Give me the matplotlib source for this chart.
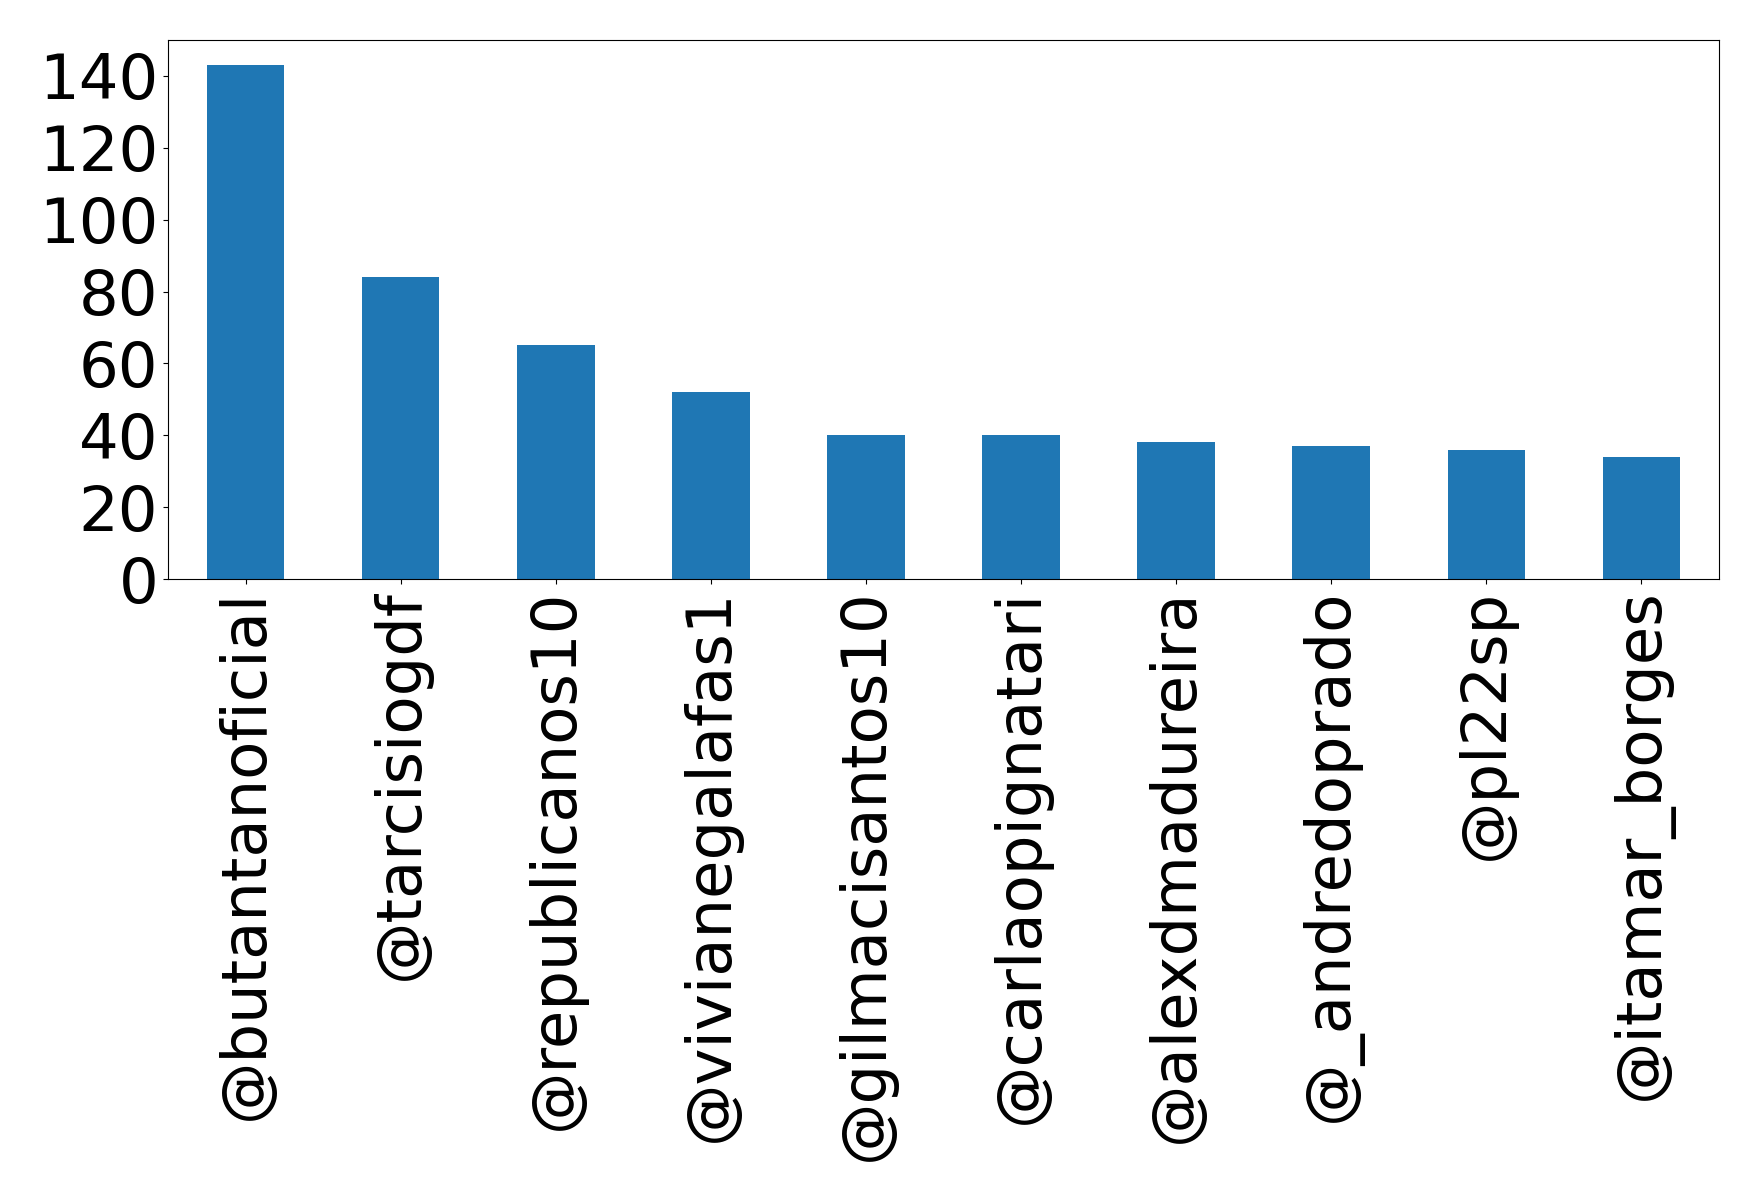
import matplotlib
matplotlib.use('Agg')
import matplotlib.pyplot as plt

# Data
users = ['@butantanoficial', '@tarcisiogdf', '@republicanos10', '@vivianegalafas1',
         '@gilmacisantos10', '@carlaopignatari', '@alexdmadureira', '@_andredoprado',
         '@pl22sp', '@itamar_borges']
counts = [143, 84, 65, 52, 40, 40, 38, 37, 36, 34]

fig = plt.figure(figsize=(17.58, 12.01), dpi=100)
ax = fig.add_axes([168 / 1758, 1 - 579 / 1201, (1719 - 168) / 1758, (579 - 40) / 1201])

ax.bar(range(len(users)), counts, width=0.5, color='#1f77b4')
ax.set_xlim(-0.5, len(users) - 0.5)
ax.set_ylim(0, 150)
ax.set_yticks(range(0, 141, 20))
ax.set_xticks(range(len(users)))
ax.set_xticklabels(users, rotation=90)
ax.tick_params(labelsize=45)

fig.savefig('out.png', dpi=100)
